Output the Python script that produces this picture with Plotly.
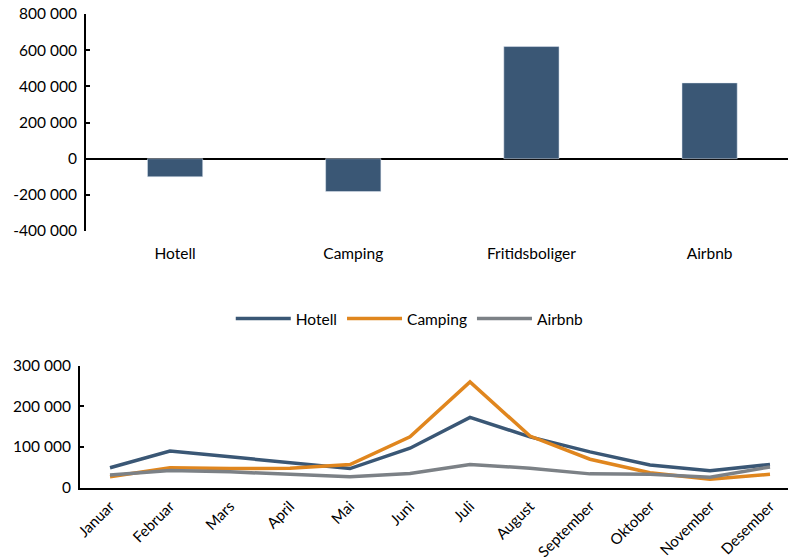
import plotly.graph_objects as go

bar_cats = ["Hotell", "Camping", "Fritidsboliger", "Airbnb"]
bar_vals = [-100000, -182000, 620000, 419000]

months = ["Januar", "Februar", "Mars", "April", "Mai", "Juni", "Juli",
          "August", "September", "Oktober", "November", "Desember"]
hotell = [49000, 90000, 76000, 62000, 47000, 97000, 173000, 125000, 88000, 56000, 42000, 57000]
camping = [27000, 49000, 47000, 48000, 57000, 125000, 260000, 127000, 70000, 37000, 21000, 33000]
airbnb = [31000, 42000, 39000, 34000, 27000, 35000, 57000, 48000, 34000, 33000, 26000, 51000]

y_ticks_top = [-400000, -200000, 0, 200000, 400000, 600000, 800000]
y_ticks_bot = [0, 100000, 200000, 300000]

def fmt(v):
    return f"{v:,}".replace(",", " ")

NAVY = "#3A5775"
ORANGE = "#E0861E"
GRAY = "#7C8186"
FONT = "Lato"

fig = go.Figure()
fig.add_trace(go.Bar(x=bar_cats, y=bar_vals, marker_color=NAVY, width=0.31,
                     showlegend=False, xaxis="x", yaxis="y"))
fig.add_trace(go.Scatter(x=months, y=hotell, name="Hotell", mode="lines",
                         line=dict(color=NAVY, width=3.5), xaxis="x2", yaxis="y2"))
fig.add_trace(go.Scatter(x=months, y=camping, name="Camping", mode="lines",
                         line=dict(color=ORANGE, width=3.5), xaxis="x2", yaxis="y2"))
fig.add_trace(go.Scatter(x=months, y=airbnb, name="Airbnb", mode="lines",
                         line=dict(color=GRAY, width=3.5), xaxis="x2", yaxis="y2"))

H = 557
W = 788
fig.update_layout(
    width=W, height=H,
    margin=dict(l=0, r=0, t=0, b=0),
    paper_bgcolor="white", plot_bgcolor="white",
    font=dict(family=FONT, size=15.5, color="black"),
    showlegend=True,
    legend=dict(orientation="h", x=0.52, xanchor="center", y=1 - 319 / H, yanchor="middle",
                font=dict(size=15.5), itemwidth=55, tracegroupgap=0),
    xaxis=dict(domain=[86 / W, 1], range=[-0.5, 3.44], showline=False, showgrid=False,
               zeroline=False, ticks="", ticklabelstandoff=11, automargin=False, anchor="y",
               type="category"),
    yaxis=dict(domain=[1 - 231 / H, 1 - 14 / H], range=[-400000, 800000],
               tickvals=y_ticks_top, ticktext=[fmt(v) for v in y_ticks_top],
               showline=True, linecolor="black", linewidth=2, showgrid=False,
               zeroline=True, zerolinecolor="black", zerolinewidth=2,
               ticks="inside", ticklen=4, tickcolor="black", tickwidth=2,
               ticklabelstandoff=4, automargin=False, anchor="x"),
    xaxis2=dict(domain=[80 / W, 1], range=[-0.5, 11.3], showline=True, linecolor="black",
                linewidth=2, showgrid=False, zeroline=False, ticks="", tickangle=-45,
                automargin=False, anchor="y2", type="category", ticklabelstandoff=2,
                tickfont=dict(size=15)),
    yaxis2=dict(domain=[1 - 487.7 / H, 1 - 365.7 / H], range=[0, 300000],
                tickvals=y_ticks_bot, ticktext=[fmt(v) for v in y_ticks_bot],
                showline=True, linecolor="black", linewidth=2, showgrid=False,
                zeroline=False, ticks="inside", ticklen=4, tickcolor="black", tickwidth=2,
                ticklabelstandoff=4, automargin=False, anchor="x2"),
)

fig.write_html("out.html", config={"displayModeBar": False},
               post_script="document.body.style.margin='0';document.body.style.overflow='hidden';")
